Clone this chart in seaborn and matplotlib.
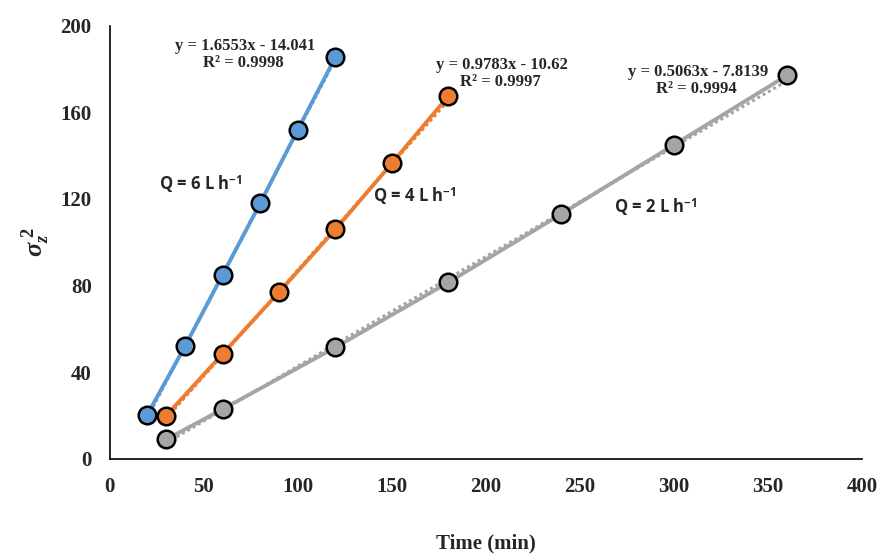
import matplotlib
matplotlib.use("Agg")
import matplotlib.pyplot as plt
import seaborn as sns
import numpy as np
import pandas as pd

# Data
x_q6 = [20, 40, 60, 80, 100, 120]
y_q6 = [20.5, 52, 85, 118, 152, 185.5]
x_q4 = [30, 60, 90, 120, 150, 180]
y_q4 = [20, 48.5, 77, 106, 136.5, 167.5]
x_q2 = [30, 60, 120, 180, 240, 300, 360]
y_q2 = [9, 23, 51.5, 81.5, 113, 145, 177]

fit_q6 = (1.6553, -14.041)
fit_q4 = (0.9783, -10.62)
fit_q2 = (0.5063, -7.8139)

eq_q6 = ["y = 1.6553x - 14.041", "R² = 0.9998"]
eq_q4 = ["y = 0.9783x - 10.62", "R² = 0.9997"]
eq_q2 = ["y = 0.5063x - 7.8139", "R² = 0.9994"]

labels = [r"Q = 6 L h$^{\mathbf{-1}}$", r"Q = 4 L h$^{\mathbf{-1}}$", r"Q = 2 L h$^{\mathbf{-1}}$"]
colors = ["#5B9BD5", "#ED7D31", "#A5A5A5"]

x_ticks = [0, 50, 100, 150, 200, 250, 300, 350, 400]
y_ticks = [0, 40, 80, 120, 160, 200]

sns.set_theme(style="white")
plt.rcParams['font.family'] = ['Liberation Serif', 'DejaVu Serif']
plt.rcParams['mathtext.fontset'] = 'custom'
plt.rcParams['mathtext.it'] = 'Liberation Serif:italic:bold'
plt.rcParams['mathtext.rm'] = 'Liberation Serif:bold'
plt.rcParams['mathtext.bf'] = 'Open Sans:bold'

fig = plt.figure(figsize=(8.78, 5.56), dpi=100)
ax = fig.add_axes([0.125, 0.1745, 0.857, 0.7795])

series = [(x_q6, y_q6, fit_q6), (x_q4, y_q4, fit_q4), (x_q2, y_q2, fit_q2)]
for (xs, ys, fit), c in zip(series, colors):
    df = pd.DataFrame({"x": xs, "y": ys})
    # dotted linear trendline
    xt = np.array([xs[0], xs[-1]])
    ax.plot(xt, fit[0] * xt + fit[1], color=c, lw=2.2, ls=(0, (1, 1)), zorder=2)
    sns.lineplot(data=df, x="x", y="y", ax=ax, color=c, lw=2.8, zorder=3)
    sns.scatterplot(data=df, x="x", y="y", ax=ax, color=c, s=160,
                    edgecolor="black", linewidth=1.8, zorder=4)

ax.set_xlim(0, 400)
ax.set_ylim(0, 200)
ax.set_xticks(x_ticks)
ax.set_yticks(y_ticks)
ax.tick_params(axis='both', length=0, labelsize=15, pad=13)
for lab in ax.get_xticklabels() + ax.get_yticklabels():
    lab.set_fontweight('bold')

for s in ["top", "right"]:
    ax.spines[s].set_visible(False)
for s in ["left", "bottom"]:
    ax.spines[s].set_color("black")
    ax.spines[s].set_linewidth(1.2)

ax.set_xlabel("Time (min)", fontsize=15, fontweight='bold', labelpad=26)
ax.set_ylabel(r"$\sigma_z^{\;2}$", fontsize=19, labelpad=6)

# equations
eqs = [(eq_q6, 72, 190.7), (eq_q4, 208.5, 182), (eq_q2, 312.8, 178.7)]
for (lines, xe, ye) in eqs:
    ax.text(xe, ye, lines[0], fontsize=12, fontweight='bold', ha='center', va='center')
    ax.text(xe - 1, ye - 7.9, lines[1], fontsize=12, fontweight='bold', ha='center', va='center')

# Q labels
qpos = [(26, 127), (140, 121.3), (268, 116)]
for lab, (xq, yq) in zip(labels, qpos):
    ax.text(xq, yq, lab, fontsize=12, fontweight='bold', family=['Open Sans', 'DejaVu Sans'],
            ha='left', va='center')

fig.savefig("out.png", dpi=100)
